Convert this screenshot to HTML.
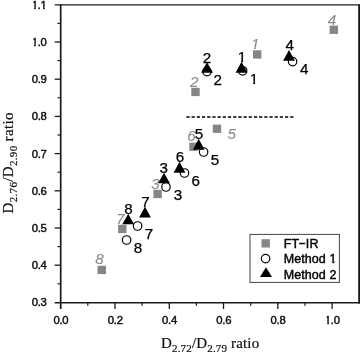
<!DOCTYPE html>
<html><head><meta charset="utf-8"><title>D2.76/D2.90 ratio vs D2.72/D2.79 ratio</title>
<style>
html,body{margin:0;padding:0;background:#fff;}
body{width:360px;height:355px;overflow:hidden;}
svg{display:block;}
.tk{font-family:"Liberation Sans",sans-serif;font-size:11.3px;fill:#111;stroke:#111;stroke-width:0.45px;letter-spacing:-0.25px;}
.bl{font-family:"Liberation Sans",sans-serif;font-size:15.2px;fill:#000;stroke:#000;stroke-width:0.25px;text-anchor:middle;}
.gl{font-family:"Liberation Sans",sans-serif;font-size:15.2px;font-style:italic;fill:#8a8a8a;stroke:#8a8a8a;stroke-width:0.08px;text-anchor:middle;}
.ax{font-family:"Liberation Serif",serif;font-size:15px;fill:#111;stroke:#111;stroke-width:0.2px;}
.lg{font-family:"Liberation Sans",sans-serif;font-size:12.5px;fill:#000;stroke:#000;stroke-width:0.42px;letter-spacing:0.08px;}
</style></head><body>
<svg width="360" height="355" viewBox="0 0 360 355">
<rect x="0" y="0" width="360" height="355" fill="#fff"/>
<defs>
<clipPath id="c1"><path d="M-8,-14 H8 V-2.4 H1.2 V0.8 H-0.7 V-2.4 H-8 Z"/></clipPath>
<clipPath id="c1i"><path d="M-8,-14 H9 V-2.4 H0.9 L0.3,0.8 H-1.4 L-0.8,-2.4 H-8 Z"/></clipPath>
<clipPath id="cy10"><path d="M-13.1,-12 H2 V2 H-8.7 V-1.9 H-10.75 V0.8 H-12.5 V-1.9 H-13.1 Z"/></clipPath>
<clipPath id="cy11"><path d="M-13.1,-12 H2 V-1.9 H-1.87 V0.8 H-3.57 V-1.9 H-6.3 V2 H-8.7 V-1.9 H-10.75 V0.8 H-12.5 V-1.9 H-13.1 Z"/></clipPath>
<clipPath id="cx10"><path d="M-5.6,-12 H10 V2 H-1.25 V-1.9 H-3.29 V0.8 H-4.99 V-1.9 H-5.6 Z"/></clipPath>
<clipPath id="cl1"><path d="M280,250 H340 V261.4 H334.3 V264.5 H332.5 V261.4 H329.5 V268 H280 Z"/></clipPath>
</defs>

<g stroke="#1a1a1a" fill="none">
<line x1="54.7" y1="4.9" x2="360" y2="4.9" stroke-width="1.25" stroke="#1a1a1a"/>
<line x1="60.7" y1="4.6" x2="60.7" y2="309" stroke-width="1.7"/>
<line x1="54.7" y1="302.7" x2="360" y2="302.7" stroke-width="1.4"/>
<line x1="359.1" y1="4.6" x2="359.1" y2="303.4" stroke-width="1.8"/>
<line x1="57.5" y1="283.8" x2="60" y2="283.8" stroke-width="1.2"/>
<line x1="54.7" y1="265.2" x2="60" y2="265.2" stroke-width="1.3"/>
<line x1="57.5" y1="246.6" x2="60" y2="246.6" stroke-width="1.2"/>
<line x1="54.7" y1="228.0" x2="60" y2="228.0" stroke-width="1.3"/>
<line x1="57.5" y1="209.4" x2="60" y2="209.4" stroke-width="1.2"/>
<line x1="54.7" y1="190.8" x2="60" y2="190.8" stroke-width="1.3"/>
<line x1="57.5" y1="172.2" x2="60" y2="172.2" stroke-width="1.2"/>
<line x1="54.7" y1="153.6" x2="60" y2="153.6" stroke-width="1.3"/>
<line x1="57.5" y1="135.0" x2="60" y2="135.0" stroke-width="1.2"/>
<line x1="54.7" y1="116.4" x2="60" y2="116.4" stroke-width="1.3"/>
<line x1="57.5" y1="97.8" x2="60" y2="97.8" stroke-width="1.2"/>
<line x1="54.7" y1="79.2" x2="60" y2="79.2" stroke-width="1.3"/>
<line x1="57.5" y1="60.6" x2="60" y2="60.6" stroke-width="1.2"/>
<line x1="54.7" y1="42.0" x2="60" y2="42.0" stroke-width="1.3"/>
<line x1="57.5" y1="23.4" x2="60" y2="23.4" stroke-width="1.2"/>
<line x1="87.8" y1="303" x2="87.8" y2="305.7" stroke-width="1.2"/>
<line x1="115.0" y1="303" x2="115.0" y2="309" stroke-width="1.3"/>
<line x1="142.1" y1="303" x2="142.1" y2="305.7" stroke-width="1.2"/>
<line x1="169.3" y1="303" x2="169.3" y2="309" stroke-width="1.3"/>
<line x1="196.4" y1="303" x2="196.4" y2="305.7" stroke-width="1.2"/>
<line x1="223.5" y1="303" x2="223.5" y2="309" stroke-width="1.3"/>
<line x1="250.7" y1="303" x2="250.7" y2="305.7" stroke-width="1.2"/>
<line x1="277.8" y1="303" x2="277.8" y2="309" stroke-width="1.3"/>
<line x1="305.0" y1="303" x2="305.0" y2="305.7" stroke-width="1.2"/>
<line x1="332.1" y1="303" x2="332.1" y2="309" stroke-width="1.3"/>
</g>
<text class="tk" transform="translate(46.6,306.3)" text-anchor="end">0.3</text>
<text class="tk" transform="translate(46.6,269.1)" text-anchor="end">0.4</text>
<text class="tk" transform="translate(46.6,231.9)" text-anchor="end">0.5</text>
<text class="tk" transform="translate(46.6,194.7)" text-anchor="end">0.6</text>
<text class="tk" transform="translate(46.6,157.5)" text-anchor="end">0.7</text>
<text class="tk" transform="translate(46.6,120.3)" text-anchor="end">0.8</text>
<text class="tk" transform="translate(46.6,83.1)" text-anchor="end">0.9</text>
<text class="tk" transform="translate(46.6,45.9)" text-anchor="end" clip-path="url(#cy10)">1.0</text>
<text class="tk" transform="translate(46.6,8.7)" text-anchor="end" clip-path="url(#cy11)">1.1</text>
<text class="tk" transform="translate(60.9,324.2)" text-anchor="middle">0.0</text>
<text class="tk" transform="translate(115.2,324.2)" text-anchor="middle">0.2</text>
<text class="tk" transform="translate(169.5,324.2)" text-anchor="middle">0.4</text>
<text class="tk" transform="translate(223.7,324.2)" text-anchor="middle">0.6</text>
<text class="tk" transform="translate(278.0,324.2)" text-anchor="middle">0.8</text>
<text class="tk" transform="translate(332.3,324.2)" text-anchor="middle" clip-path="url(#cx10)">1.0</text>
<text class="ax" x="161.0" y="347.6" letter-spacing="0.16">D<tspan font-size="11" dy="4">2.72</tspan><tspan dy="-4">/D</tspan><tspan font-size="11" dy="4">2.79</tspan><tspan dy="-4"> ratio</tspan></text>
<text class="ax" transform="translate(13.2,213.5) rotate(-90)" letter-spacing="0.33">D<tspan font-size="11" dy="4">2.76</tspan><tspan dy="-4">/D</tspan><tspan font-size="11" dy="4">2.90</tspan><tspan dy="-4"> ratio</tspan></text>
<line x1="186.4" y1="117" x2="293.5" y2="117" stroke="#000" stroke-width="1.5" stroke-dasharray="3.25 1.94"/>
<rect x="253.0" y="50.3" width="8.4" height="8.3" fill="#868686"/>
<rect x="191.3" y="87.8" width="8.4" height="8.3" fill="#868686"/>
<rect x="153.4" y="189.8" width="8.4" height="8.3" fill="#868686"/>
<rect x="329.6" y="25.6" width="8.4" height="8.3" fill="#868686"/>
<rect x="212.8" y="124.6" width="8.4" height="8.3" fill="#868686"/>
<rect x="189.3" y="142.6" width="8.4" height="8.3" fill="#868686"/>
<rect x="118.1" y="224.8" width="8.4" height="8.3" fill="#868686"/>
<rect x="97.6" y="265.8" width="8.4" height="8.3" fill="#868686"/>
<text id="g1" class="gl" transform="translate(255.2,49.2)" clip-path="url(#c1i)">1</text>
<text id="g2" class="gl" x="194.2" y="87.2">2</text>
<text id="g3" class="gl" x="155.4" y="189.2">3</text>
<text id="g4" class="gl" x="331.9" y="25.0">4</text>
<text id="g5" class="gl" x="231.7" y="139.2">5</text>
<text id="g6" class="gl" x="191.4" y="141.2">6</text>
<text id="g7" class="gl" x="120.4" y="223.5">7</text>
<text id="g8" class="gl" x="99.6" y="264.2">8</text>
<circle cx="242.6" cy="70.8" r="4.25" fill="#fff" stroke="#000" stroke-width="1.2"/>
<circle cx="207" cy="71.6" r="4.25" fill="#fff" stroke="#000" stroke-width="1.2"/>
<circle cx="166" cy="187" r="4.25" fill="#fff" stroke="#000" stroke-width="1.2"/>
<circle cx="292.6" cy="61.6" r="4.25" fill="#fff" stroke="#000" stroke-width="1.2"/>
<circle cx="203.6" cy="152" r="4.25" fill="#fff" stroke="#000" stroke-width="1.2"/>
<circle cx="184.5" cy="173" r="4.25" fill="#fff" stroke="#000" stroke-width="1.2"/>
<circle cx="137.6" cy="226" r="4.25" fill="#fff" stroke="#000" stroke-width="1.2"/>
<circle cx="126.6" cy="240" r="4.25" fill="#fff" stroke="#000" stroke-width="1.2"/>
<polygon points="241.5,61.7 235.6,72.8 247.4,72.8" fill="#000"/>
<polygon points="207,62.3 201.1,72.8 212.9,72.8" fill="#000"/>
<polygon points="164,172.7 158.1,183.2 169.9,183.2" fill="#000"/>
<polygon points="289,49.9 283.1,60.7 294.9,60.7" fill="#000"/>
<polygon points="198.7,138.7 192.79999999999998,149.7 204.6,149.7" fill="#000"/>
<polygon points="179.5,161.7 173.6,172.8 185.4,172.8" fill="#000"/>
<polygon points="145,206.7 139.1,217.6 150.9,217.6" fill="#000"/>
<polygon points="128.2,213.7 122.29999999999998,224.2 134.1,224.2" fill="#000"/>
<text id="a1" class="bl" transform="translate(241.9,62.2)" clip-path="url(#c1)">1</text>
<text id="a2" class="bl" x="207.0" y="62.8">2</text>
<text id="a3" class="bl" x="163.8" y="173.2">3</text>
<text id="a4" class="bl" x="289.8" y="50.4">4</text>
<text id="a5" class="bl" x="199.1" y="139.2">5</text>
<text id="a6" class="bl" x="179.9" y="162.2">6</text>
<text id="a7" class="bl" x="145.4" y="207.2">7</text>
<text id="a8" class="bl" x="128.6" y="214.2">8</text>
<text id="r1" class="bl" transform="translate(253.9,83.8)" clip-path="url(#c1)">1</text>
<text id="r2" class="bl" x="217.8" y="84.6">2</text>
<text id="r3" class="bl" x="177.9" y="200.0">3</text>
<text id="r4" class="bl" x="304.3" y="74.0">4</text>
<text id="r5" class="bl" x="214.9" y="165.0">5</text>
<text id="r6" class="bl" x="195.8" y="186.0">6</text>
<text id="r7" class="bl" x="148.9" y="239.0">7</text>
<text id="r8" class="bl" x="137.9" y="253.0">8</text>
<rect x="250" y="234.4" width="89.4" height="48" fill="#fff" stroke="#444" stroke-width="1"/>
<rect x="261.5" y="239.2" width="8.4" height="8.3" fill="#868686"/>
<circle cx="265.6" cy="258.6" r="4.25" fill="#fff" stroke="#000" stroke-width="1.2"/>
<polygon points="266,267.2 260,277 272,277" fill="#000"/>
<text class="lg" x="283.7" y="248">FT<tspan dy="-1.4" textLength="7.4" lengthAdjust="spacingAndGlyphs">-</tspan><tspan dy="1.4">IR</tspan></text>
<text class="lg" x="283.7" y="263.4" clip-path="url(#cl1)">Method 1</text>
<text class="lg" x="283.7" y="278.6">Method 2</text>
</svg></body></html>
